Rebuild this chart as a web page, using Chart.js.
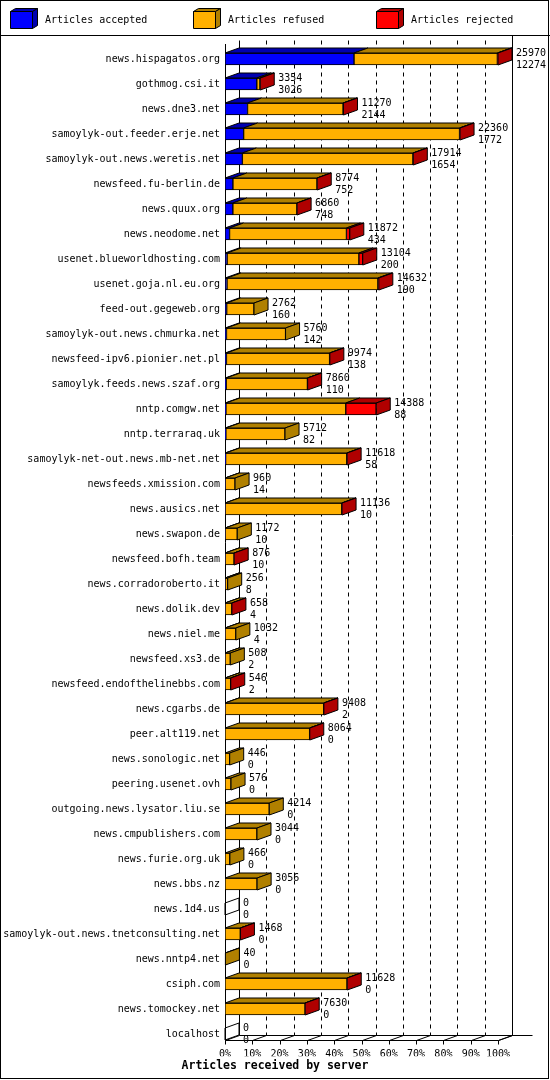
<!DOCTYPE html>
<html>
<head>
<meta charset="utf-8">
<script src="https://cdn.jsdelivr.net/npm/chart.js@4.4.1/dist/chart.umd.min.js"></script>
<style>
  html, body { margin: 0; padding: 0; background: #fff; }
  #wrap { width: 550px; height: 1080px; position: relative; }
</style>
</head>
<body>
<div id="wrap"><canvas id="feeds"></canvas></div>
<script>
// ==================== DATA ====================
const hosts = [
    'news.hispagatos.org', 'gothmog.csi.it', 'news.dne3.net', 'samoylyk-out.feeder.erje.net',
    'samoylyk-out.news.weretis.net', 'newsfeed.fu-berlin.de', 'news.quux.org', 'news.neodome.net',
    'usenet.blueworldhosting.com', 'usenet.goja.nl.eu.org', 'feed-out.gegeweb.org',
    'samoylyk-out.news.chmurka.net', 'newsfeed-ipv6.pionier.net.pl', 'samoylyk.feeds.news.szaf.org',
    'nntp.comgw.net', 'nntp.terraraq.uk', 'samoylyk-net-out.news.mb-net.net', 'newsfeeds.xmission.com',
    'news.ausics.net', 'news.swapon.de', 'newsfeed.bofh.team', 'news.corradoroberto.it',
    'news.dolik.dev', 'news.niel.me', 'newsfeed.xs3.de', 'newsfeed.endofthelinebbs.com',
    'news.cgarbs.de', 'peer.alt119.net', 'news.sonologic.net', 'peering.usenet.ovh',
    'outgoing.news.lysator.liu.se', 'news.cmpublishers.com', 'news.furie.org.uk', 'news.bbs.nz',
    'news.1d4.us', 'samoylyk-out.news.tnetconsulting.net', 'news.nntp4.net', 'csiph.com',
    'news.tomockey.net', 'localhost'
];
// total offered (upper number next to each bar)
const offered = [
    25970, 3354, 11270, 22360, 17914, 8774, 6860, 11872, 13104, 14632,
    2762, 5760, 9974, 7860, 14388, 5712, 11618, 960, 11136, 1172,
    876, 256, 658, 1032, 508, 546, 9408, 8064, 446, 576,
    4214, 3044, 466, 3056, 0, 1468, 40, 11628, 7630, 0
];
const accepted = [
    12274, 3026, 2144, 1772, 1654, 752, 748, 434, 200, 190,
    160, 142, 138, 110, 88, 82, 58, 14, 10, 10,
    10, 8, 4, 4, 2, 2, 2, 0, 0, 0,
    0, 0, 0, 0, 0, 0, 0, 0, 0, 0
];
const refused = [
    13636, 300, 9086, 20538, 16224, 8000, 6094, 11118, 12534, 14352,
    2602, 5618, 9810, 7730, 11400, 5630, 11530, 946, 11102, 1162,
    854, 248, 648, 1028, 506, 536, 9390, 8050, 446, 576,
    4214, 3044, 466, 3056, 0, 1458, 40, 11608, 7618, 0
];
const rejected = [
    60, 28, 40, 50, 36, 22, 18, 320, 370, 90,
    0, 0, 26, 20, 2900, 0, 30, 0, 24, 0,
    12, 0, 6, 0, 0, 8, 16, 14, 0, 0,
    0, 0, 0, 0, 0, 10, 0, 20, 12, 0
];
const seriesLabels = ['Articles accepted', 'Articles refused', 'Articles rejected'];
const tickLabels = ['0%', '10%', '20%', '30%', '40%', '50%', '60%', '70%', '80%', '90%', '100%'];
const axisTitle = 'Articles received by server';

// ==================== STYLE ====================
const frontColors = ['#0000ff', '#ffb000', '#ff0000'];
const darkColors = ['#0000b0', '#b08000', '#b00000'];
const MONO = '"DejaVu Sans Mono", "Liberation Mono", monospace';
const DX = 14, DY = 5;           // depth of the 3D effect
const legendX = [10, 193, 376];  // left edge of each legend box

const maxTotal = Math.max(...offered);
const series = [accepted, refused, rejected];

function poly(ctx, pts, fill) {
    ctx.beginPath();
    ctx.moveTo(pts[0][0], pts[0][1]);
    for (let k = 1; k < pts.length; k++) ctx.lineTo(pts[k][0], pts[k][1]);
    ctx.closePath();
    if (fill) { ctx.fillStyle = fill; ctx.fill(); }
    ctx.strokeStyle = '#000';
    ctx.lineWidth = 1;
    ctx.stroke();
}

function line(ctx, x1, y1, x2, y2, dash) {
    ctx.beginPath();
    ctx.setLineDash(dash || []);
    ctx.moveTo(x1, y1);
    ctx.lineTo(x2, y2);
    ctx.stroke();
    ctx.setLineDash([]);
}

// back wall, floor, side faces and legend drawn around the library's bars
const frame3d = {
    id: 'frame3d',
    beforeDraw(chart) {
        const { ctx, width, height } = chart;
        ctx.save();
        ctx.fillStyle = '#fff';
        ctx.fillRect(0, 0, width, height);
        ctx.restore();
    },
    beforeDatasetsDraw(chart) {
        const { ctx, scales: { x, y } } = chart;
        const floor = Math.round(y.getPixelForValue(hosts.length - 1) + 6) + 0.5;
        const top = 40.5;
        const left = Math.round(x.getPixelForValue(0)) + 0.5;
        const right = Math.round(x.getPixelForValue(maxTotal)) + 0.5;
        ctx.save();
        ctx.strokeStyle = '#000';
        ctx.lineWidth = 1;
        // back wall grid
        x.ticks.forEach((t, i) => {
            const bx = Math.round(x.getPixelForValue(t.value)) + DX + 0.5;
            if (i === 0) line(ctx, bx, top, bx, floor - DY);
            else if (i === x.ticks.length - 1) line(ctx, bx, 36, bx, floor - DY);
            else line(ctx, bx, top, bx, floor - DY, [4, 4]);
        });
        // back floor edge
        line(ctx, left + DX, floor - DY, right + DX + 20, floor - DY);
        // front axis and floor
        line(ctx, left, 44, left, floor);
        line(ctx, left, floor, right, floor);
        line(ctx, right, floor, right + DX, floor - DY);
        x.ticks.forEach(t => {
            const fx = Math.round(x.getPixelForValue(t.value)) + 0.5;
            line(ctx, fx, floor, fx, floor + 4);
            line(ctx, fx, floor, fx + DX, floor - DY);
        });
        ctx.restore();
    },
    afterDatasetsDraw(chart) {
        const { ctx, scales: { x } } = chart;
        ctx.save();
        hosts.forEach((h, i) => {
            let lastEnd = x.getPixelForValue(0);
            let yTop = 0, yBot = 0, sideColor = null;
            series.forEach((s, d) => {
                const bar = chart.getDatasetMeta(d).data[i];
                yTop = bar.y - bar.height / 2;
                yBot = bar.y + bar.height / 2;
                if (s[i] > 0) {
                    const x0 = Math.min(bar.base, bar.x), x1 = Math.max(bar.base, bar.x);
                    poly(ctx, [[x0, yTop], [x1, yTop], [x1 + DX, yTop - DY], [x0 + DX, yTop - DY]], darkColors[d]);
                    lastEnd = x1;
                    sideColor = darkColors[d];
                }
            });
            poly(ctx, [[lastEnd, yTop], [lastEnd + DX, yTop - DY], [lastEnd + DX, yBot - DY], [lastEnd, yBot]], sideColor);
            ctx.fillStyle = '#000';
            ctx.font = '10px ' + MONO;
            ctx.textAlign = 'left';
            ctx.textBaseline = 'middle';
            const cy = (yTop + yBot) / 2;
            ctx.fillText(String(offered[i]), lastEnd + DX + 4, cy - 6);
            ctx.fillText(String(accepted[i]), lastEnd + DX + 4, cy + 6);
        });
        ctx.restore();
    },
    afterDraw(chart) {
        const { ctx, width, height } = chart;
        ctx.save();
        ctx.strokeStyle = '#000';
        ctx.lineWidth = 1;
        // legend boxes
        seriesLabels.forEach((lab, d) => {
            const bx = legendX[d] + 0.5;
            poly(ctx, [[bx, 11.5], [bx + 22, 11.5], [bx + 22, 28.5], [bx, 28.5]], frontColors[d]);
            poly(ctx, [[bx, 11.5], [bx + 5, 8.5], [bx + 27, 8.5], [bx + 22, 11.5]], darkColors[d]);
            poly(ctx, [[bx + 22, 11.5], [bx + 27, 8.5], [bx + 27, 25.5], [bx + 22, 28.5]], darkColors[d]);
            ctx.fillStyle = '#000';
            ctx.font = '10px ' + MONO;
            ctx.textAlign = 'left';
            ctx.textBaseline = 'middle';
            ctx.fillText(lab, legendX[d] + 35, 20);
        });
        // axis title, centred on the whole image
        ctx.font = 'bold 11.5px ' + MONO;
        ctx.textAlign = 'center';
        ctx.fillText(axisTitle, width / 2, 1066);
        line(ctx, 0, 35.5, width, 35.5);
        ctx.strokeRect(0.5, 0.5, width - 2, height - 2);
        ctx.restore();
    }
};

Chart.defaults.color = '#000';
Chart.defaults.font.family = MONO;

new Chart(document.getElementById('feeds'), {
    type: 'bar',
    data: {
        labels: hosts,
        datasets: series.map((s, d) => ({
            label: seriesLabels[d],
            data: s,
            backgroundColor: frontColors[d],
            borderColor: '#000',
            borderWidth: 1,
            borderSkipped: false,
            barThickness: 12
        }))
    },
    options: {
        indexAxis: 'y',
        responsive: true,
        maintainAspectRatio: false,
        devicePixelRatio: 1,
        animation: false,
        layout: { padding: { top: 46.5, right: 52, bottom: 23.8, left: 0 } },
        plugins: {
            legend: { display: false },
            tooltip: { enabled: false },
            title: { display: false }
        },
        scales: {
            x: {
                stacked: true,
                min: 0,
                max: maxTotal,
                afterBuildTicks: scale => {
                    scale.ticks = tickLabels.map((t, k) => ({ value: maxTotal * k / 10 }));
                },
                ticks: {
                    autoSkip: false,
                    maxRotation: 0,
                    padding: 2,
                    font: { family: MONO, size: 10 },
                    callback: (v, k) => tickLabels[k]
                },
                grid: { display: false, drawTicks: false },
                border: { display: false },
                afterFit: scale => { scale.height = 9.7; }
            },
            y: {
                stacked: true,
                ticks: { padding: 5, autoSkip: false, font: { family: MONO, size: 10 } },
                grid: { display: false, drawTicks: false },
                border: { display: false },
                afterFit: scale => { scale.width = 225; }
            }
        }
    },
    plugins: [frame3d]
});
</script>
</body>
</html>
